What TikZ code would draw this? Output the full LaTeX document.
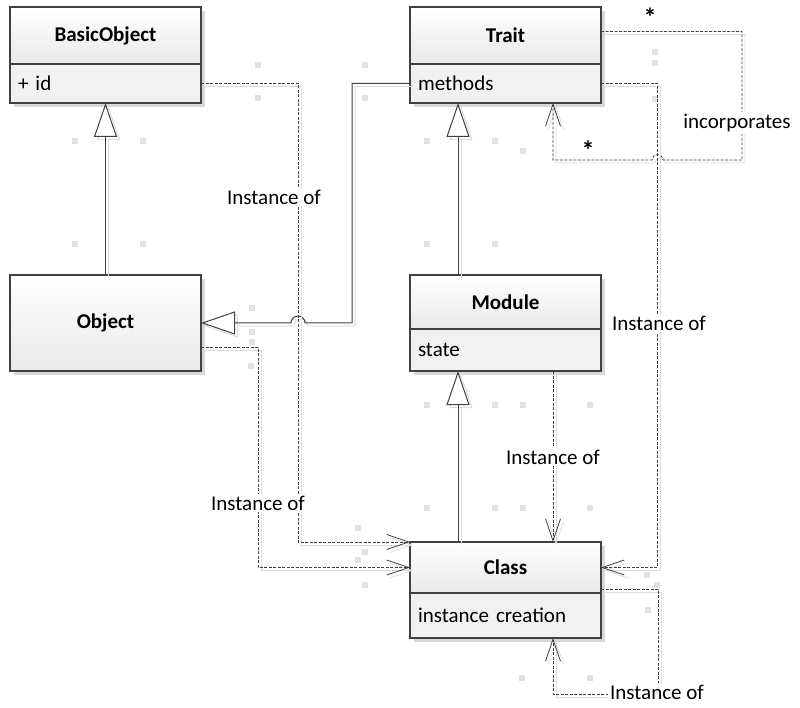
\documentclass[tikz,border=0pt]{standalone}
\usepackage{fontspec}
\setmainfont{Carlito}
\usetikzlibrary{arrows.meta,calc}
\definecolor{edge}{HTML}{404040}
\definecolor{hdrbot}{HTML}{E9E9E9}
\definecolor{attrfill}{HTML}{F1F1F1}
\definecolor{boxshade}{HTML}{D8D8D8}
\definecolor{lineshade}{HTML}{DCDCDC}
\definecolor{dotfill}{HTML}{E2E2E2}

\tikzset{
  x=1pt, y=1pt,
  txt/.style={font=\fontsize{21}{25}\selectfont},
  boxshadow/.style={preaction={fill=boxshade, transform canvas={shift={(4pt,-4pt)}}}},
  hdr/.style={rectangle, draw=edge, line width=1.1pt, outer sep=0pt, inner sep=0pt,
    minimum width=191pt, top color=white, bottom color=hdrbot, boxshadow,
    font=\fontsize{21}{25}\selectfont\bfseries, anchor=north west},
  attr/.style={rectangle, draw=edge, line width=1.1pt, outer sep=0pt, inner ysep=0pt,
    inner xsep=8pt, text width=175pt, align=left, fill=attrfill, boxshadow,
    txt, anchor=north west},
  solidline/.style={draw=edge, line width=1pt,
    preaction={draw=lineshade, line width=1pt, transform canvas={shift={(3pt,-3pt)}}}},
  dashline/.style={draw=edge, line width=0.8pt, dash pattern=on 3pt off 1.5pt,
    preaction={draw=lineshade, line width=0.8pt, transform canvas={shift={(3pt,-3pt)}}}},
  gen/.style={-{Triangle[open, length=34pt, width=23pt, fill=white]}},
  dep/.style={-{Straight Barb[length=22pt, width=15pt]}},
  lbl/.style={txt, fill=white, inner sep=2pt},
  mult/.style={font=\fontsize{26}{30}\selectfont\bfseries, inner sep=1pt},
}

\begin{document}
\begin{tikzpicture}
\useasboundingbox (0,0) rectangle (800,-708);

% guide columns for the connectors
\coordinate (gx) at (458,0);
\coordinate (xr) at (553,0);

% stray connection markers of the editor
\foreach \px/\py in {258/65,258/98,365/65,365/98,
                     75/141,143/141,75/244,143/244,
                     427/141,495/141,523/151,427/244,495/244,
                     427/405,495/405,523/405,590/405,427/508,495/508,523/508,590/508,
                     252/308,252/332,252/342,251/366,
                     358/528,365/552,358/560,365/585,
                     655/52,655/63,655/99,
                     647/575,657/585,648/610,522/678,590/678}
  \fill[dotfill] ({\px-3},{-\py-3}) rectangle ++(6,6);

% classes
\node[hdr, minimum height=57pt] (basicH) at (10,-7) {BasicObject};
\node[attr, minimum height=39pt] (basicA) at (basicH.south west) {+ id};

\node[hdr, minimum height=57pt] (traitH) at (410,-7) {Trait};
\node[attr, minimum height=39pt] (traitA) at (traitH.south west) {methods};

\node[hdr, minimum height=96pt] (object) at (10,-275) {Object};

\node[hdr, minimum height=54pt] (moduleH) at (410,-275) {Module};
\node[attr, minimum height=42pt] (moduleA) at (moduleH.south west) {state};

\node[hdr, minimum height=51pt] (classH) at (410,-542) {Class};
\node[attr, minimum height=45pt] (classA) at (classH.south west) {instance creation};

% generalisations
\draw[solidline, gen] (object.north) -- (basicA.south);
\draw[solidline, gen] (moduleH.north -| gx) -- (traitA.south -| gx);
\draw[solidline, gen] (classH.north -| gx) -- (moduleA.south -| gx);
\draw[solidline, gen] (traitA.west) -| ($(object.east)+(151,0)$)
  -- ($(object.east)+(104,0)$) arc[start angle=0, end angle=180, radius=7]
  -- (object.east);

% instance-of dependencies
\draw[dashline, dep] (basicA.east) -| ($(classH.north west)+(-112,0)$) -- (classH.north west);
\node[lbl] (lblBasic) at (274,-197) {Instance of};

\draw[dashline, dep] ($(object.south east)+(0,24)$) -| ($(classH.west)+(-152,0)$) -- (classH.west);
\node[lbl] (lblObject) at (258,-503) {Instance of};

\draw[dashline, dep] (moduleA.south -| xr) -- (classH.north -| xr);
\node[lbl] (lblModule) at (553,-457) {Instance of};

\draw[dashline, dep] ($(traitH.east)+(0,4)$) -| (742,-160) -- (663,-160)
  arc[start angle=0, end angle=180, radius=5.5] -- (553,-160) -- (traitA.south -| xr);
\node[lbl] (lblIncorp) at (737,-123) {incorporates};
\node[mult] (multSrc) at (650,-17) {*};
\node[mult] (multDst) at (588,-150) {*};

\draw[dashline, dep] (traitA.east) -| ($(classH.east)+(56,0)$) -- (classH.east);
\node[lbl] (lblTrait) at (659,-323) {Instance of};

\draw[dashline, dep] ($(classH.south east)+(0,4)$) -| (658,-694) -- (553,-694) -- (classA.south -| xr);
\node[lbl] (lblClass) at (657,-692) {Instance of};
\end{tikzpicture}
\end{document}
